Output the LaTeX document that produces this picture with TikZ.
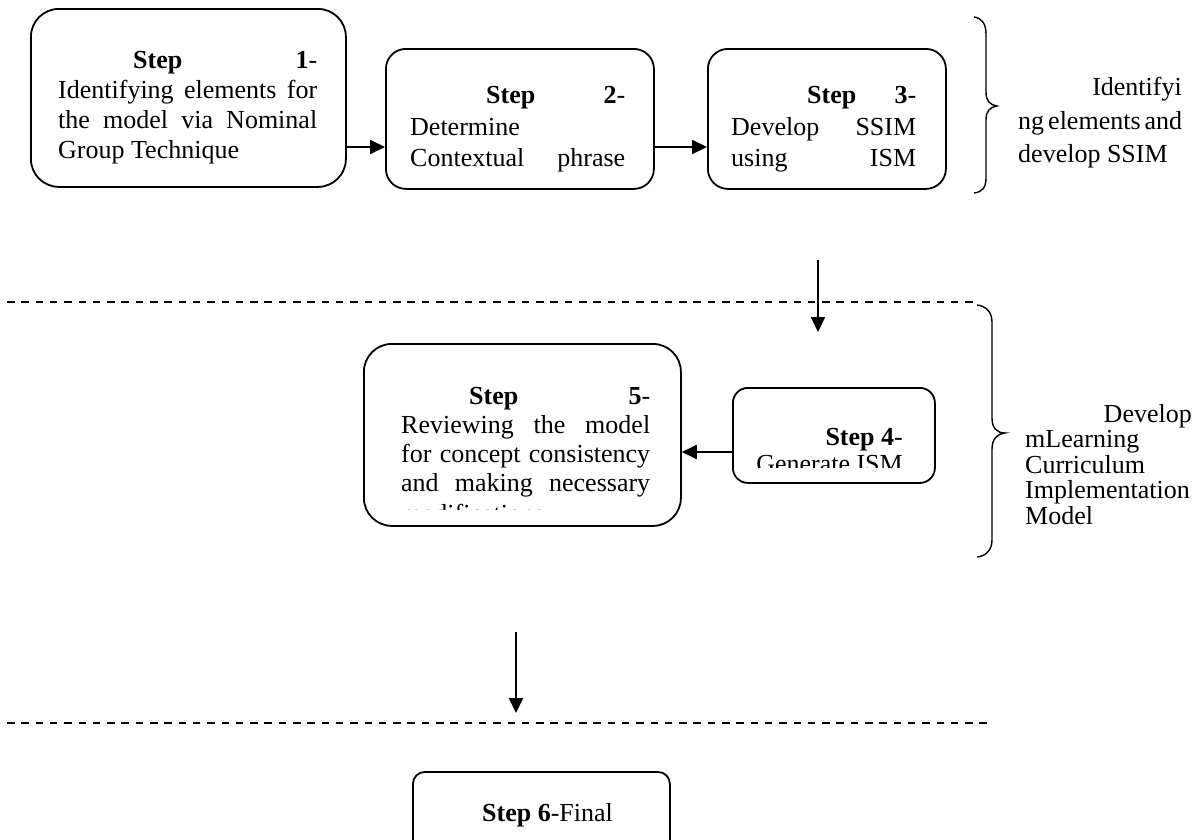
\documentclass[tikz,border=0pt]{standalone}
\usepackage{fontspec}
\setmainfont{Liberation Serif}
\usetikzlibrary{arrows.meta}
\begin{document}
\begin{tikzpicture}[x=1pt,y=-1pt,
  stepbox/.style={draw, line width=1.8pt, rounded corners=#1, inner sep=0pt, anchor=north west},
  txt/.style={inner sep=0pt, font=\fontsize{26}{30}\selectfont},
  arr/.style={line width=2pt, -{Triangle[length=15pt,width=14pt]}},
  sep/.style={line width=1.5pt, dash pattern=on 7.5pt off 6.8pt},
  brace/.style={line width=1.4pt}]
\useasboundingbox (0,0) rectangle (1203,839);

% boxes
\node[stepbox=28pt, minimum width=315pt, minimum height=178pt] (b1) at (30,8) {};
\node[stepbox=20pt, minimum width=268pt, minimum height=140pt] (b2) at (385,48) {};
\node[stepbox=20pt, minimum width=238pt, minimum height=140pt] (b3) at (707,48) {};
\node[stepbox=15pt, minimum width=202pt, minimum height=95pt] (b4) at (732,387) {};
\node[stepbox=28pt, minimum width=317pt, minimum height=182pt] (b5) at (363,343) {};
\node[stepbox=12pt, minimum width=257pt, minimum height=110pt] (b6) at (412,771) {};

% box 1 text
\node[txt, anchor=base west] (t1a) at (58,68) {\hbox to 259pt{\hspace{75pt}\textbf{Step}\hfill\textbf{1}-}};
\node[txt, anchor=base west] (t1b) at (58,98) {\hbox to 259pt{Identifying\hfill elements\hfill for}};
\node[txt, anchor=base west] (t1c) at (58,128) {\hbox to 259pt{the\hfill model\hfill via\hfill Nominal}};
\node[txt, anchor=base west] (t1d) at (58,158) {Group Technique};

% box 2 text
\node[txt, anchor=base west] (t2a) at (410,103) {\hbox to 215pt{\hspace{76pt}\textbf{Step}\hfill\textbf{2}-}};
\node[txt, anchor=base west] (t2b) at (410,135) {Determine};
\node[txt, anchor=base west] (t2c) at (410,166) {\hbox to 215pt{Contextual\hfill phrase}};

% box 3 text
\node[txt, anchor=base west] (t3a) at (731,103) {\hbox to 185pt{\hspace{76pt}\textbf{Step}\hfill\textbf{3}-}};
\node[txt, anchor=base west] (t3b) at (731,135) {\hbox to 185pt{Develop\hfill SSIM}};
\node[txt, anchor=base west] (t3c) at (731,166) {\hbox to 185pt{using\hfill ISM}};

% box 4 text
\node[txt, anchor=base east] (t4a) at (903,445) {\textbf{Step 4}-};
\begin{scope}
\clip (740,390) rectangle (930,467);
\node[txt, anchor=base east] (t4b) at (903,472) {Generate ISM};
\end{scope}

% box 5 text
\node[txt, anchor=base west] (t5a) at (401,404) {\hbox to 249pt{\hspace{68pt}\textbf{Step}\hfill\textbf{5}-}};
\node[txt, anchor=base west] (t5b) at (401,433) {\hbox to 249pt{Reviewing\hfill the\hfill model}};
\node[txt, anchor=base west] (t5c) at (401,462) {\hbox to 249pt{for\hfill concept\hfill consistency}};
\node[txt, anchor=base west] (t5d) at (401,491) {\hbox to 249pt{and\hfill making\hfill necessary}};
\begin{scope}
\clip (370,340) rectangle (675,509);
\node[txt, anchor=base west] (t5e) at (401,522) {modifications};
\end{scope}

% box 6 text
\node[txt, anchor=base west] (t6a) at (482,821) {\textbf{Step 6}-Final};

% connectors
\coordinate (ya) at (0,147);
\draw[arr] (b1.east |- ya) -- (b2.west |- ya);
\draw[arr] (b2.east |- ya) -- (b3.west |- ya);
\coordinate (yb) at (0,452);
\draw[arr] (b4.west |- yb) -- (b5.east |- yb);
\coordinate (v1s) at (818,260);
\coordinate (v1e) at (818,332);
\draw[arr] (v1s) -- (v1e);
\coordinate (v2s) at (516,632);
\coordinate (v2e) at (516,713);
\draw[arr] (v2s) -- (v2e);

% separators
\draw[sep] (7,302) -- (977,302);
\draw[sep] (7,723) -- (990,723);

% braces
\draw[brace] (974,17) .. controls (982,18) and (986,24) .. (986,34)
  -- (986,92) .. controls (986,101) and (990,105) .. (997,106)
  .. controls (990,107) and (986,111) .. (986,120)
  -- (986,178) .. controls (986,188) and (982,192) .. (974,193);
\draw[brace] (977,305) .. controls (986,306) and (992,312) .. (992,322)
  -- (992,418) .. controls (992,428) and (997,433) .. (1005,433)
  .. controls (997,434) and (992,439) .. (992,449)
  -- (992,540) .. controls (992,550) and (986,556) .. (977,557);

% brace labels
\node[txt, anchor=base east] (l1a) at (1182,95) {Identifyi};
\node[txt, anchor=base west] (l1b) at (1018,129) {\hbox to 164pt{ng\hfill elements\hfill and}};
\node[txt, anchor=base west] (l1c) at (1018,162) {develop SSIM};

\node[txt, anchor=base east] (l2a) at (1192,422) {Develop};
\node[txt, anchor=base west] (l2b) at (1025,447) {mLearning};
\node[txt, anchor=base west] (l2c) at (1025,473) {Curriculum};
\node[txt, anchor=base west] (l2d) at (1025,498) {Implementation};
\node[txt, anchor=base west] (l2e) at (1025,524) {Model};
\end{tikzpicture}
\end{document}
